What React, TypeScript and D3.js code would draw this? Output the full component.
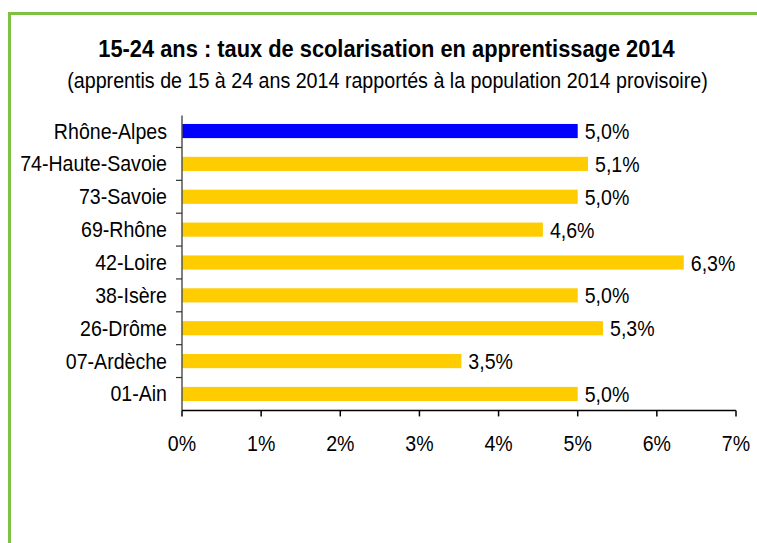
import React from "react";
import * as d3 from "d3";

// categories (top to bottom) and rates in %
const categories = [
  "Rhône-Alpes",
  "74-Haute-Savoie",
  "73-Savoie",
  "69-Rhône",
  "42-Loire",
  "38-Isère",
  "26-Drôme",
  "07-Ardèche",
  "01-Ain",
];
const rates = [5.0, 5.13, 5.0, 4.56, 6.34, 5.0, 5.32, 3.53, 5.0];
const xTicks = [0, 1, 2, 3, 4, 5, 6, 7];

const title = "15-24 ans : taux de scolarisation en apprentissage 2014";
const subtitle =
  "(apprentis de 15 à 24 ans 2014 rapportés à la population 2014 provisoire)";

const FONT = "'Liberation Sans', Arial, sans-serif";

const width = 757,
  height = 543;
const plot = { left: 182, right: 736, top: 114.6, bottom: 410.4 };

export default function App() {
  const x = d3.scaleLinear().domain([0, 7]).range([plot.left, plot.right]);
  const y = d3
    .scaleBand<string>()
    .domain(categories)
    .range([plot.top, plot.bottom])
    .paddingInner(0.57)
    .paddingOuter(0.285);

  const fmt = (v: number) => v.toFixed(1).replace(".", ",") + "%";
  // squeeze horizontally to look like Arial Narrow
  const narrow = (tx: number, ty: number, k = 0.89) =>
    `translate(${tx},${ty}) scale(${k},1)`;

  const step = y.step();
  const boundaries = d3.range(1, categories.length).map((i) => plot.top + i * step);

  return (
    <svg
      width={width}
      height={height}
      style={{ position: "absolute", left: 0, top: 0, background: "#fff" }}
      fontFamily={FONT}
    >
      {/* green frame */}
      <line x1={9.5} x2={9.5} y1={12} y2={height} stroke="#7DC242" strokeWidth={3} />
      <line x1={8} x2={width} y1={13.5} y2={13.5} stroke="#7DC242" strokeWidth={3} />

      <text transform={narrow(386.5, 56.5, 0.91)} textAnchor="middle" fontSize={24} fontWeight="bold">
        {title}
      </text>
      <text transform={narrow(387.5, 87.5, 0.915)} textAnchor="middle" fontSize={21.5}>
        {subtitle}
      </text>

      {/* bars */}
      {categories.map((c, i) => (
        <rect
          key={c}
          x={x(0)}
          y={y(c)!}
          width={x(rates[i]) - x(0)}
          height={y.bandwidth()}
          fill={i === 0 ? "#0000FF" : "#FFCC00"}
        />
      ))}

      {/* value labels */}
      {categories.map((c, i) => (
        <text
          key={c}
          transform={narrow(x(rates[i]) + 7, y(c)! + y.bandwidth() / 2 + 8)}
          fontSize={22}
        >
          {fmt(rates[i])}
        </text>
      ))}

      {/* category labels */}
      {categories.map((c) => (
        <text
          key={c}
          transform={narrow(167, y(c)! + y.bandwidth() / 2 + 7.5)}
          textAnchor="end"
          fontSize={22}
        >
          {c}
        </text>
      ))}

      {/* left axis */}
      <line x1={plot.left} x2={plot.left} y1={plot.top + 1} y2={plot.bottom} stroke="#555" strokeWidth={1.5} />
      {boundaries.map((b) => (
        <line key={b} x1={plot.left - 6} x2={plot.left} y1={b} y2={b} stroke="#333" strokeWidth={1.2} />
      ))}

      {/* bottom axis */}
      <line x1={plot.left} x2={plot.right} y1={plot.bottom} y2={plot.bottom} stroke="#000" strokeWidth={1.5} />
      {xTicks.map((t) => (
        <g key={t}>
          <line x1={x(t)} x2={x(t)} y1={plot.bottom} y2={plot.bottom + 6} stroke="#000" strokeWidth={1.5} />
          <text transform={narrow(x(t), 451)} textAnchor="middle" fontSize={22}>
            {t + "%"}
          </text>
        </g>
      ))}
    </svg>
  );
}
